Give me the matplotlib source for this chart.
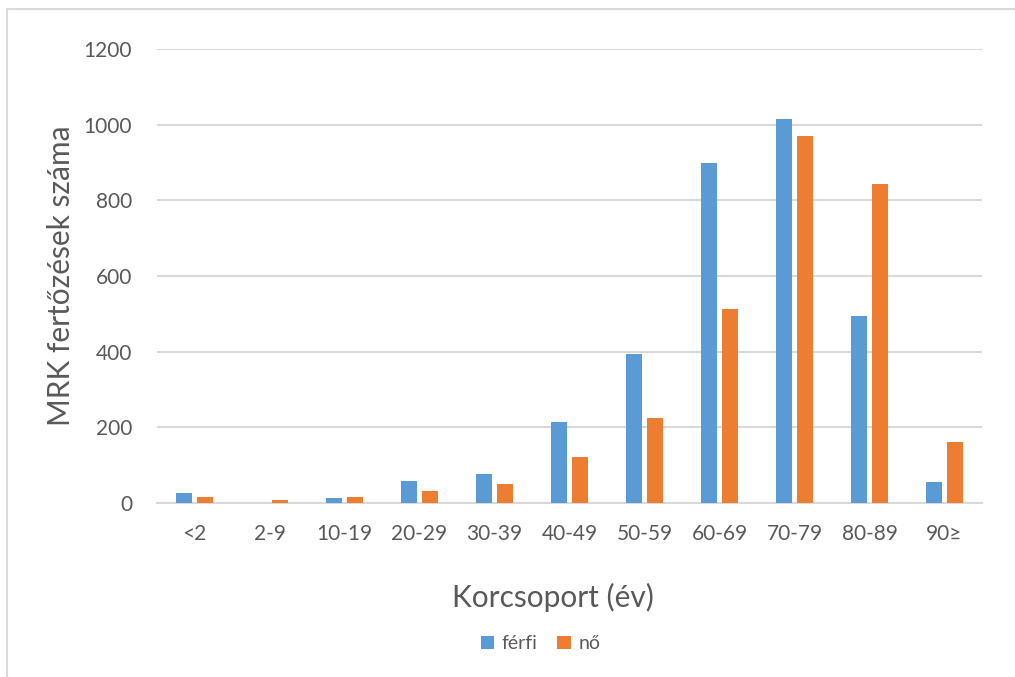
import matplotlib.pyplot as plt
import numpy as np
from matplotlib.patches import Rectangle

plt.rcParams['font.family'] = ['Lato', 'DejaVu Sans']

# Korcsoportok és esetszámok
korcsoport = ['<2', '2-9', '10-19', '20-29', '30-39', '40-49', '50-59', '60-69', '70-79', '80-89', '90≥']
ferfi = [26, 1, 12, 57, 77, 215, 395, 900, 1015, 493, 56]
no = [16, 7, 16, 33, 50, 121, 226, 514, 969, 843, 161]

kek = '#5B9BD5'
narancs = '#ED7D31'
szurke = '#595959'

fig = plt.figure(figsize=(10.15, 6.77), dpi=100)
ax = fig.add_axes([0.1547, 0.257, 0.8128, 0.6706])

x = np.arange(len(korcsoport))
w = 0.22
ax.bar(x - 0.137, ferfi, w, color=kek, label='férfi', zorder=3)
ax.bar(x + 0.137, no, w, color=narancs, label='nő', zorder=3)

ax.set_xlim(-0.5, len(korcsoport) - 0.5)
ax.set_ylim(0, 1200)
ax.set_yticks(range(0, 1201, 200))
ax.set_xticks(x)
ax.set_xticklabels(korcsoport)
ax.yaxis.grid(True, color='#D9D9D9', linewidth=1.5, zorder=0)
for s in ['top', 'right', 'left']:
    ax.spines[s].set_visible(False)
ax.spines['bottom'].set_color('#D9D9D9')
ax.spines['bottom'].set_linewidth(1.5)
ax.tick_params(axis='both', length=0, labelsize=15, colors=szurke)
ax.tick_params(axis='y', pad=18)
ax.tick_params(axis='x', pad=15)

ax.set_xlabel('Korcsoport (év)', fontsize=21.5, color=szurke, va='center')
ax.xaxis.set_label_coords(0.48, -0.209)
ax.set_ylabel('MRK fertőzések száma', fontsize=21.5, color=szurke, va='center')
ax.yaxis.set_label_coords(-0.116, 0.5)

ax.legend(loc='center', bbox_to_anchor=(0.465, -0.31), ncol=2, frameon=False,
          fontsize=14, labelcolor=szurke, handlelength=0.7, handleheight=0.7,
          handletextpad=0.4, columnspacing=1.0)

# világosszürke keret a diagram körül
fig.patches.append(Rectangle((7 / 1015, -0.1), 1.2, 1 - 9 / 677 + 0.1,
                             transform=fig.transFigure, fill=False,
                             edgecolor='#D9D9D9', linewidth=1.5))

plt.savefig('out.png', dpi=100)
